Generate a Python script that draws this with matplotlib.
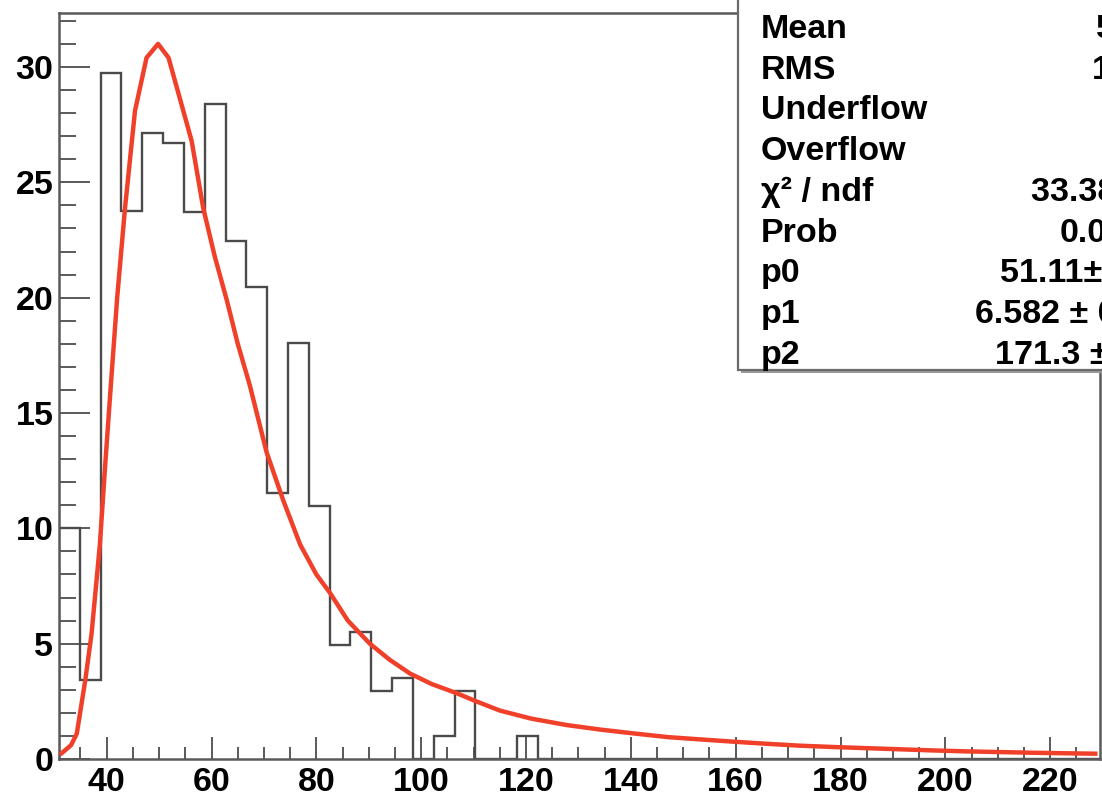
import numpy as np
import matplotlib
matplotlib.use("Agg")
import matplotlib.pyplot as plt
from matplotlib.patches import Rectangle
from matplotlib.ticker import MultipleLocator

# ---- data ----
x_min, x_max = 30.9, 229.5
n_bins = 50
bin_values = [10.0, 3.42, 29.75, 23.77, 27.15, 26.69, 23.7, 28.39, 22.47, 20.47,
              11.52, 18.02, 10.97, 4.94, 5.49, 2.96, 3.53, 0.0, 1.0, 2.96,
              0.0, 0.0, 1.0, 0.0, 0.0, 0.0, 0.0, 0.0, 0.0, 0.0,
              0.0, 0.0, 0.0, 0.0, 0.0, 0.0, 0.0, 0.0, 0.0, 0.0,
              0.0, 0.0, 0.0, 0.0, 0.0, 0.0, 0.0, 0.0, 0.0, 0.0]

fit_x = [31.4, 33.2, 34.3, 35.9, 37.1, 38.7, 39.7, 40.6, 42.0, 43.5, 45.4, 47.6,
         49.8, 51.8, 54.0, 56.2, 58.4, 60.6, 62.9, 65.0, 67.3, 70.5, 73.7, 76.9,
         80.0, 82.6, 86.0, 90.2, 94.0, 97.9, 102.0, 106.8, 110.5, 115.0, 121.0,
         127.8, 134.0, 140.5, 147.0, 153.2, 159.6, 165.9, 172.0, 178.6, 185.0,
         191.4, 197.8, 204.1, 210.5, 216.8, 222.5, 228.6]
fit_y = [0.25, 0.6, 1.1, 3.4, 5.4, 9.3, 12.7, 15.6, 20.0, 23.9, 28.1, 30.4,
         31.0, 30.4, 28.6, 26.8, 23.9, 21.8, 19.9, 18.0, 16.2, 13.3, 11.2, 9.3,
         8.0, 7.2, 6.0, 5.0, 4.3, 3.7, 3.25, 2.85, 2.5, 2.1, 1.75,
         1.47, 1.28, 1.11, 0.95, 0.85, 0.75, 0.66, 0.58, 0.52, 0.47,
         0.42, 0.37, 0.33, 0.30, 0.27, 0.25, 0.23]

stat_labels = ["Mean", "RMS", "Underflow", "Overflow", "\u03c7\u00b2 / ndf", "Prob", "p0", "p1", "p2"]
stat_values = ["57.64", "15.93", "0", "0", "33.38 / 15", "0.003915",
               "51.11\u00b1 0.43", "6.582 \u00b1 0.392", "171.3 \u00b1 11.1"]
stat_value_x = [1096, 1092, 1160, 1160, 1031, 1060, 1000, 975, 995]

# ---- figure ----
W, H = 1102, 797
fig = plt.figure(figsize=(W / 100, H / 100), dpi=100)
fig.patch.set_facecolor("white")
L, R, T, B = 59, 1100, 13, 759
ax = fig.add_axes([L / W, 1 - B / H, (R - L) / W, (B - T) / H])

font = "Liberation Sans"
frame_col = "#5a5a5a"
fs = 24.5

edges = np.linspace(x_min, x_max, n_bins + 1)
ax.stairs(bin_values, edges, color="#4a4a4a", lw=1.7, zorder=2)
ax.plot(fit_x, fit_y, color="#f0402a", lw=3.2, zorder=3, solid_joinstyle="round")

ax.set_xlim(x_min, x_max)
ax.set_ylim(0, 32.34)

ax.xaxis.set_major_locator(MultipleLocator(20))
ax.xaxis.set_minor_locator(MultipleLocator(5))
ax.yaxis.set_major_locator(MultipleLocator(5))
ax.yaxis.set_minor_locator(MultipleLocator(1))

ax.tick_params(axis="x", which="major", direction="in", length=16, width=1.4,
               color=frame_col, pad=6, labelsize=fs)
ax.tick_params(axis="x", which="minor", direction="in", length=8.6, width=1.4,
               color=frame_col)
ax.tick_params(axis="y", which="major", direction="in", length=22.3, width=1.4,
               color=frame_col, pad=4, labelsize=fs)
ax.tick_params(axis="y", which="minor", direction="in", length=12.2, width=1.4,
               color=frame_col)
for lab in ax.get_xticklabels() + ax.get_yticklabels():
    lab.set_fontfamily(font)
    lab.set_fontweight("bold")

for s in ax.spines.values():
    s.set_color(frame_col)
    s.set_linewidth(1.8)

# ---- stats box (figure pixel coordinates) ----
def fx(px):
    return px / W

def fy(py):
    return 1 - py / H

box_l, box_b = 738, 370
shadow = Rectangle((fx(box_l + 3), fy(box_b + 3)), fx(W + 20 - box_l), fy(-20) - fy(box_b + 3),
                   transform=fig.transFigure, facecolor="#9a9a9a", edgecolor="none", zorder=5)
fig.add_artist(shadow)
box = Rectangle((fx(box_l), fy(box_b)), fx(W + 20 - box_l), fy(-20) - fy(box_b),
                transform=fig.transFigure, facecolor="white", edgecolor="#6a6a6a",
                lw=1.6, zorder=6)
fig.add_artist(box)

base0, step = 38, 40.7
for i, (lab, val, vx) in enumerate(zip(stat_labels, stat_values, stat_value_x)):
    yb = base0 + i * step
    fig.text(fx(761), fy(yb), lab, ha="left", va="baseline", fontsize=fs,
             fontweight="bold", family=[font, "DejaVu Sans"], color="black", zorder=7)
    fig.text(fx(vx), fy(yb), val, ha="left", va="baseline", fontsize=fs,
             fontweight="bold", family=[font, "DejaVu Sans"], color="black", zorder=7)

fig.savefig("out.png", dpi=100)
